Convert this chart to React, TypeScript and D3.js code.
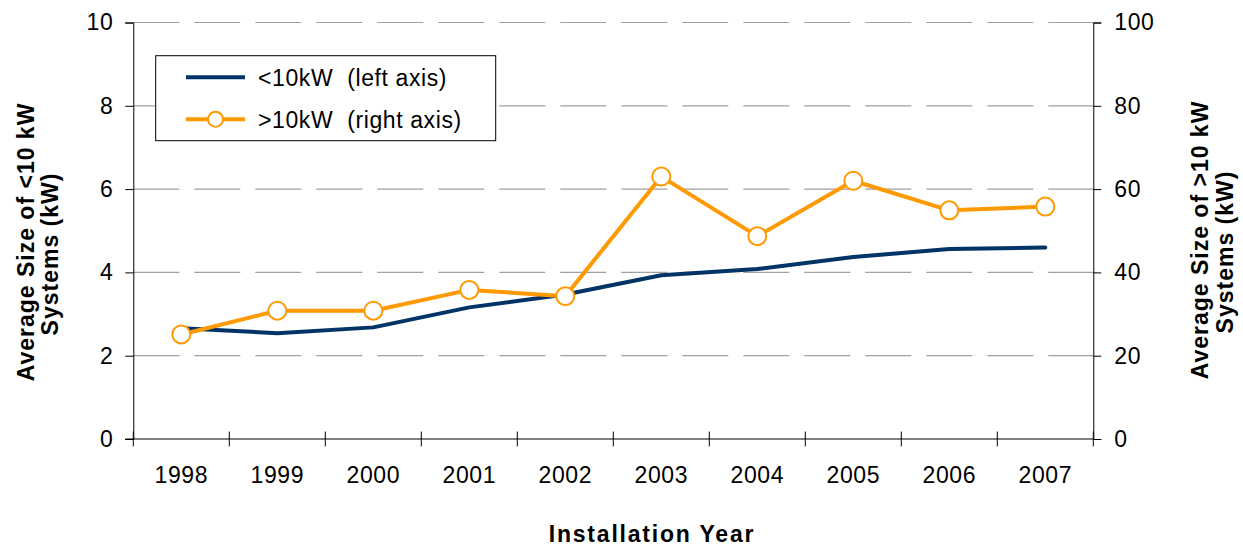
import React, { useEffect, useRef } from "react";
import * as d3 from "d3";

const years = ["1998", "1999", "2000", "2001", "2002", "2003", "2004", "2005", "2006", "2007"];
const smallSystems = [2.66, 2.54, 2.68, 3.16, 3.47, 3.93, 4.08, 4.37, 4.56, 4.6];
const largeSystems = [25.1, 30.8, 30.8, 35.8, 34.3, 63.0, 48.7, 62.0, 54.9, 55.8];
const leftTicks = [0, 2, 4, 6, 8, 10];
const rightTicks = [0, 20, 40, 60, 80, 100];
const legendLabels = ["<10kW  (left axis)", ">10kW  (right axis)"];

const W = 1243;
const H = 547;
const FONT = "'Liberation Sans', Arial, sans-serif";
const NAVY = "#003366";
const ORANGE = "#FF9900";

export default function App() {
  const ref = useRef<SVGSVGElement>(null);

  useEffect(() => {
    const svg = d3.select(ref.current);
    svg.selectAll("*").remove();

    const left = 133.3, right = 1093.3, top = 22.5, bottom = 439;
    const x = d3.scaleBand<string>().domain(years).range([left, right]).padding(0);
    const yL = d3.scaleLinear().domain([0, 10]).range([bottom, top]);
    const yR = d3.scaleLinear().domain([0, 100]).range([bottom, top]);
    const cx = (i: number) => (x(years[i]) as number) + x.bandwidth() / 2;

    // gridlines
    svg.append("g")
      .selectAll("line")
      .data(leftTicks.filter((t) => t > 0))
      .join("line")
      .attr("x1", left).attr("x2", right)
      .attr("y1", (d) => yL(d)).attr("y2", (d) => yL(d))
      .attr("stroke", "#A0A0A0").attr("stroke-width", 1.2)
      .attr("stroke-dasharray", "46 15");

    // left axis
    const gL = svg.append("g").attr("transform", `translate(${left},0)`)
      .call(d3.axisLeft(yL).tickValues(leftTicks).tickSize(8).tickPadding(12).tickFormat(d3.format("d")));
    gL.select(".domain").attr("stroke", "#000").attr("stroke-width", 1);
    gL.selectAll(".tick line").attr("stroke", "#000");
    gL.selectAll("text").attr("font-family", FONT).attr("font-size", 23).attr("fill", "#000").attr("letter-spacing", 0.6);

    // right axis
    const gR = svg.append("g").attr("transform", `translate(${right},0)`)
      .call(d3.axisRight(yR).tickValues(rightTicks).tickSize(8).tickPadding(13).tickFormat(d3.format("d")));
    gR.select(".domain").attr("stroke", "#000").attr("stroke-width", 1);
    gR.selectAll(".tick line").attr("stroke", "#000");
    gR.selectAll("text").attr("font-family", FONT).attr("font-size", 23).attr("fill", "#000").attr("letter-spacing", 0.6);

    // x axis labels
    const gX = svg.append("g").attr("transform", `translate(0,${bottom})`)
      .call(d3.axisBottom(x).tickSize(0).tickPadding(28));
    gX.select(".domain").remove();
    gX.selectAll("text").attr("font-family", FONT).attr("font-size", 23).attr("fill", "#000").attr("letter-spacing", 0.6);

    // x axis line + crossing ticks
    svg.append("line").attr("x1", left - 8).attr("x2", right).attr("y1", bottom).attr("y2", bottom)
      .attr("stroke", "#000").attr("stroke-width", 1);
    const bounds = years.map((y) => x(y) as number).concat([right]);
    svg.append("g").selectAll("line").data(bounds).join("line")
      .attr("x1", (d) => d).attr("x2", (d) => d)
      .attr("y1", bottom - 7.5).attr("y2", bottom + 7.5)
      .attr("stroke", "#000").attr("stroke-width", 1);

    // series lines
    const lineL = d3.line<number>().x((_, i) => cx(i)).y((d) => yL(d));
    const lineR = d3.line<number>().x((_, i) => cx(i)).y((d) => yR(d));
    svg.append("path").attr("d", lineL(smallSystems) as string)
      .attr("fill", "none").attr("stroke", NAVY).attr("stroke-width", 4).attr("stroke-linejoin", "round").attr("stroke-linecap", "round");
    svg.append("path").attr("d", lineR(largeSystems) as string)
      .attr("fill", "none").attr("stroke", ORANGE).attr("stroke-width", 4).attr("stroke-linejoin", "round");
    svg.append("g").selectAll("circle").data(largeSystems).join("circle")
      .attr("cx", (_, i) => cx(i)).attr("cy", (d) => yR(d)).attr("r", 9)
      .attr("fill", "#fff").attr("stroke", ORANGE).attr("stroke-width", 2);

    // legend
    const lg = svg.append("g");
    lg.append("rect").attr("x", 155.7).attr("y", 55.7).attr("width", 340).attr("height", 85)
      .attr("fill", "#fff").attr("stroke", "#000").attr("stroke-width", 1);
    const rowsY = [77.3, 119.3];
    lg.append("line").attr("x1", 186).attr("x2", 245).attr("y1", rowsY[0]).attr("y2", rowsY[0])
      .attr("stroke", NAVY).attr("stroke-width", 4);
    lg.append("line").attr("x1", 186).attr("x2", 245).attr("y1", rowsY[1]).attr("y2", rowsY[1])
      .attr("stroke", ORANGE).attr("stroke-width", 4);
    lg.append("circle").attr("cx", 215.5).attr("cy", rowsY[1]).attr("r", 7.5)
      .attr("fill", "#fff").attr("stroke", ORANGE).attr("stroke-width", 2);
    lg.selectAll("text.lbl").data(legendLabels).join("text")
      .attr("class", "lbl")
      .attr("x", 258).attr("y", (_, i) => rowsY[i]).attr("dy", "0.36em")
      .attr("font-family", FONT).attr("font-size", 23).attr("letter-spacing", 0.6)
      .attr("xml:space", "preserve").style("white-space", "pre")
      .text((d) => d);

    // axis titles
    const titleStyle = (t: d3.Selection<SVGTextElement, unknown, null, undefined>) =>
      t.attr("font-family", FONT).attr("font-size", 23).attr("font-weight", "bold").attr("letter-spacing", 1.0)
        .attr("text-anchor", "middle").attr("fill", "#000");

    svg.append("text").attr("transform", `translate(33.5,242) rotate(-90)`).call(titleStyle).text("Average Size of <10 kW");
    svg.append("text").attr("transform", `translate(58,254) rotate(-90)`).call(titleStyle).text("Systems (kW)");
    svg.append("text").attr("transform", `translate(1208,240) rotate(-90)`).call(titleStyle).text("Average Size of >10 kW");
    svg.append("text").attr("transform", `translate(1232.5,252) rotate(-90)`).call(titleStyle).text("Systems (kW)");
    svg.append("text").attr("x", 652).attr("y", 542).call(titleStyle).attr("letter-spacing", 1.8).text("Installation Year");
  }, []);

  return (
    <svg ref={ref} width={W} height={H} style={{ position: "absolute", left: 0, top: 0, background: "#fff" }} />
  );
}
